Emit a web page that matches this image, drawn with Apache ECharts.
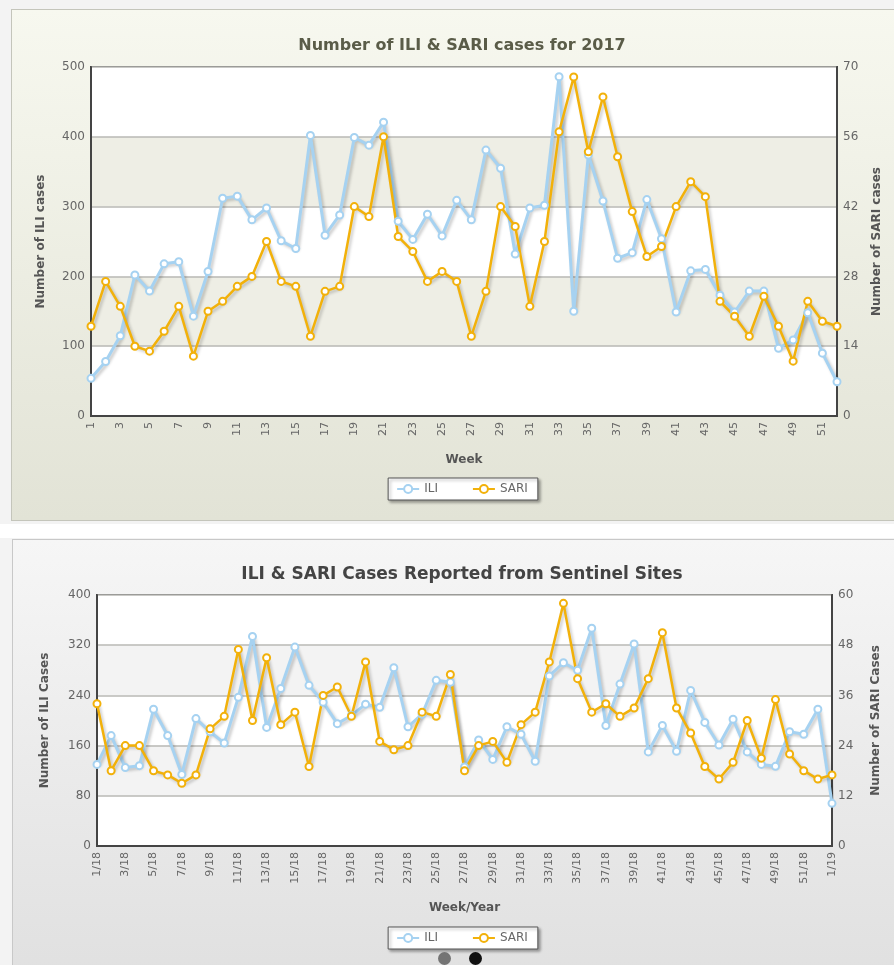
<!DOCTYPE html>
<html>
<head>
<meta charset="utf-8">
<script src="https://cdn.jsdelivr.net/npm/echarts@6/dist/echarts.min.js"></script>
<style>
  html, body { margin: 0; padding: 0; width: 894px; height: 965px; overflow: hidden; background: #f3f3f3; font-family: "DejaVu Sans", Verdana, sans-serif; }
  #gap { position: absolute; left: 0; top: 524px; width: 894px; height: 14px; background: #ffffff; }
  #panel1 { position: absolute; left: 11px; top: 9px; width: 900px; height: 510px; border: 1px solid #c4c5bb;
    background: linear-gradient(#f7f8ef, #e2e3d6); }
  #panel2 { position: absolute; left: 12px; top: 539px; width: 898px; height: 440px; border: 1px solid #c8c8c8;
    background: linear-gradient(#f6f6f6, #e0e0e0); }
  #chart1, #chart2 { width: 100%; height: 100%; }
  .dot { position: absolute; top: 952px; width: 13px; height: 13px; border-radius: 50%; }
</style>
</head>
<body>
<div id="gap"></div>
<div id="panel1"><div id="chart1"></div></div>
<div id="panel2"><div id="chart2"></div></div>
<div class="dot" style="left:438px;background:#747474;"></div>
<div class="dot" style="left:469px;background:#111;"></div>
<script>
// 2017 weekly data
const weeks2017 = Array.from({ length: 52 }, (_, i) => String(i + 1));
const ili2017 = [54, 78, 115, 202, 179, 218, 221, 143, 207, 312,
  315, 281, 298, 251, 240, 402, 259, 288, 399, 388,
  421, 279, 253, 289, 258, 309, 281, 381, 355, 232,
  298, 302, 486, 150, 374, 308, 226, 234, 310, 254,
  149, 208, 210, 173, 149, 179, 179, 97, 109, 148,
  90, 49];
const sari2017 = [18, 27, 22, 14, 13, 17, 22, 12, 21, 23,
  26, 28, 35, 27, 26, 16, 25, 26, 42, 40,
  56, 36, 33, 27, 29, 27, 16, 25, 42, 38,
  22, 35, 57, 68, 53, 64, 52, 41, 32, 34,
  42, 47, 44, 23, 20, 16, 24, 18, 11, 23,
  19, 18];

// sentinel sites, week/year
const weeks2018 = Array.from({ length: 52 }, (_, i) => (i + 1) + '/18').concat(['1/19']);
const ili2018 = [130, 176, 125, 128, 218, 176, 114, 203, 182, 164,
  237, 334, 189, 251, 317, 256, 229, 195, 208, 226,
  221, 284, 190, 210, 264, 261, 126, 169, 138, 190,
  178, 135, 271, 292, 280, 347, 192, 258, 322, 150,
  192, 151, 248, 197, 161, 202, 150, 130, 127, 182,
  178, 218, 68];
const sari2018 = [34, 18, 24, 24, 18, 17, 15, 17, 28, 31,
  47, 30, 45, 29, 32, 19, 36, 38, 31, 44,
  25, 23, 24, 32, 31, 41, 18, 24, 25, 20,
  29, 32, 44, 58, 40, 32, 34, 31, 33, 40,
  51, 33, 27, 19, 16, 20, 30, 21, 35, 22,
  18, 16, 17];

const FONT = '"DejaVu Sans", Verdana, sans-serif';
const ILI_COLOR = '#a6d2f1';
const SARI_COLOR = '#f2b10a';
const FRAME = { show: true, lineStyle: { color: '#444', width: 2 } };

function lineSeries(name, data, color, width, yIndex) {
  return {
    name: name,
    type: 'line',
    yAxisIndex: yIndex,
    data: data,
    symbol: 'emptyCircle',
    symbolSize: 7,
    lineStyle: {
      width: width,
      color: color,
      shadowColor: 'rgba(0,0,0,0.22)',
      shadowBlur: 3,
      shadowOffsetX: 2,
      shadowOffsetY: 2
    },
    itemStyle: { color: color, borderColor: color, borderWidth: 1.8 },
    animation: false
  };
}

function buildOption(cfg) {
  const labelStyle = { color: '#666', fontSize: 12, fontFamily: FONT };
  const nameStyle = { color: '#555', fontSize: 12, fontWeight: 'bold', fontFamily: FONT };
  return {
    animation: false,
    title: {
      text: cfg.title,
      left: 'center',
      top: cfg.titleTop,
      textStyle: { color: cfg.titleColor, fontSize: cfg.titleSize, fontWeight: 'bold', fontFamily: FONT }
    },
    grid: {
      left: cfg.grid.left, top: cfg.grid.top, width: cfg.grid.width, height: cfg.grid.height,
      show: true, backgroundColor: '#fff', borderColor: '#444', borderWidth: 2
    },
    legend: {
      left: 'center',
      top: cfg.legendTop,
      data: ['ILI', 'SARI'],
      backgroundColor: '#fff',
      borderColor: '#555',
      borderWidth: 1,
      padding: [5, 10, 5, 8],
      itemGap: 34,
      itemWidth: 22,
      itemHeight: 10,
      shadowColor: 'rgba(0,0,0,0.35)',
      shadowBlur: 3,
      shadowOffsetX: 2,
      shadowOffsetY: 2,
      textStyle: { color: '#666', fontSize: 12, fontFamily: FONT }
    },
    xAxis: [{
      type: 'category',
      data: cfg.cats,
      boundaryGap: false,
      name: cfg.xName,
      nameLocation: 'middle',
      nameGap: cfg.xNameGap,
      nameTextStyle: nameStyle,
      axisLine: FRAME,
      axisTick: { show: false },
      axisLabel: Object.assign({ rotate: 90, interval: 1, margin: 6 }, labelStyle, { fontSize: 11 })
    }, {
      // top edge of the plot frame
      type: 'category',
      data: cfg.cats,
      boundaryGap: false,
      position: 'top',
      axisLine: FRAME,
      axisTick: { show: false },
      axisLabel: { show: false }
    }],
    yAxis: [{
      type: 'value',
      min: 0, max: cfg.leftMax, interval: cfg.leftStep,
      name: cfg.leftName,
      nameLocation: 'middle',
      nameGap: cfg.leftNameGap,
      nameTextStyle: nameStyle,
      axisLine: FRAME,
      axisTick: { show: false },
      axisLabel: Object.assign({ margin: 6 }, labelStyle),
      splitLine: { lineStyle: { color: '#b9b9b4', width: 1.5 } },
      splitArea: { show: true, areaStyle: { color: cfg.bands } }
    }, {
      type: 'value',
      min: 0, max: cfg.rightMax, interval: cfg.rightStep,
      name: cfg.rightName,
      nameLocation: 'middle',
      nameGap: cfg.rightNameGap,
      nameTextStyle: nameStyle,
      axisLine: FRAME,
      axisTick: { show: false },
      axisLabel: Object.assign({ margin: 6 }, labelStyle),
      splitLine: { show: false }
    }],
    series: [
      lineSeries('ILI', cfg.ili, ILI_COLOR, 3, 0),
      lineSeries('SARI', cfg.sari, SARI_COLOR, 2.5, 1)
    ]
  };
}

const chart1 = echarts.init(document.getElementById('chart1'), null, { renderer: 'canvas' });
chart1.setOption(buildOption({
  title: 'Number of ILI & SARI cases for 2017',
  titleTop: 23, titleColor: '#5a5c48', titleSize: 16,
  grid: { left: 79, top: 57, width: 746, height: 349 },
  legendTop: 468,
  cats: weeks2017,
  xName: 'Week', xNameGap: 38,
  leftName: 'Number of ILI cases', leftMax: 500, leftStep: 100, leftNameGap: 44,
  rightName: 'Number of SARI cases', rightMax: 70, rightStep: 14, rightNameGap: 34,
  bands: ['#ffffff', '#eeeee5'],
  ili: ili2017, sari: sari2017
}));

const chart2 = echarts.init(document.getElementById('chart2'), null, { renderer: 'canvas' });
chart2.setOption(buildOption({
  title: 'ILI & SARI Cases Reported from Sentinel Sites',
  titleTop: 21, titleColor: '#444', titleSize: 17,
  grid: { left: 84, top: 55, width: 735, height: 251 },
  legendTop: 387,
  cats: weeks2018,
  xName: 'Week/Year', xNameGap: 56,
  leftName: 'Number of ILI Cases', leftMax: 400, leftStep: 80, leftNameGap: 46,
  rightName: 'Number of SARI Cases', rightMax: 60, rightStep: 12, rightNameGap: 38,
  bands: ['#ffffff', '#f3f3f3'],
  ili: ili2018, sari: sari2018
}));
</script>
</body>
</html>
